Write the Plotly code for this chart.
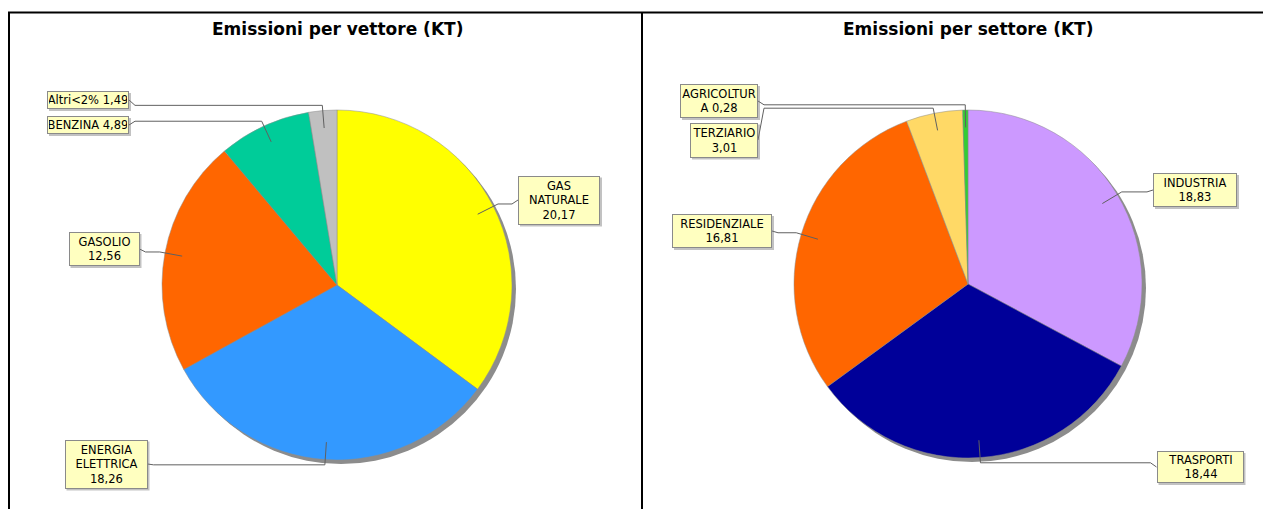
import math
import textwrap
import plotly.graph_objects as go

W, H = 1263, 509

# ---------------- data ----------------
titles = ["Emissioni per vettore (KT)", "Emissioni per settore (KT)"]

vettore_labels = ["GAS NATURALE", "ENERGIA ELETTRICA", "GASOLIO", "BENZINA", "Altri<2%"]
vettore_values = [20.17, 18.26, 12.56, 4.89, 1.49]

settore_labels = ["INDUSTRIA", "TRASPORTI", "RESIDENZIALE", "TERZIARIO", "AGRICOLTURA"]
settore_values = [18.83, 18.44, 16.81, 3.01, 0.28]

# ---------------- style / layout ----------------
vettore_colors = ["#FFFF00", "#3399FF", "#FF6600", "#00CC99", "#C0C0C0"]
settore_colors = ["#CC99FF", "#000099", "#FF6600", "#FFD966", "#33CC33"]

# pie centre (px) and radius (px)
pie_geom = [(337, 285, 175), (968, 284, 174)]
title_pos = [(337, 29), (968, 29)]

# label boxes: centre x, centre y, width, height, wrap width (chars)
vettore_boxes = [(559, 200, 82, 49, 9), (106, 464, 83, 49, 9), (104, 249, 71, 34, 9),
                 (88, 125, 82, 18, 14), (88, 100, 82, 18, 14)]
settore_boxes = [(1195, 190, 84, 34, 9), (1200, 467, 87, 32, 9), (722, 231, 100, 34, 12),
                 (724, 140, 68, 35, 9), (719, 101, 78, 34, 10)]

FONT = "DejaVu Sans"
BOX_BG = "#FFFFC0"
BOX_BORDER = "#8A8A8A"
LINE_COL = "#606060"

fig = go.Figure()
shapes = []
annotations = []

# invisible overlay axis in pixel units
fig.add_trace(go.Scatter(x=[W / 2], y=[H / 2], mode="none",
                         hoverinfo="skip", showlegend=False))

pies = [(vettore_labels, vettore_values, vettore_colors, vettore_boxes),
        (settore_labels, settore_values, settore_colors, settore_boxes)]

for i, (labels, values, colors, boxes) in enumerate(pies):
    cx, cy, r = pie_geom[i]
    # shadow
    shapes.append(dict(type="circle", xref="x", yref="y", layer="below",
                       x0=cx - r + 4, x1=cx + r + 4, y0=cy - r + 4, y1=cy + r + 4,
                       fillcolor="#8C8C8C", line=dict(width=0)))
    fig.add_trace(go.Pie(
        labels=labels, values=values, sort=False, direction="clockwise", rotation=0,
        marker=dict(colors=colors, line=dict(color="#8C8C8C", width=0.5)),
        textinfo="none", hoverinfo="label+value", showlegend=False,
        domain=dict(x=[(cx - r) / W, (cx + r) / W], y=[1 - (cy + r) / H, 1 - (cy - r) / H]),
    ))
    total = sum(values)
    cum = 0.0
    for lab, val, box in zip(labels, values, boxes):
        mid = (cum + val / 2) / total * 2 * math.pi
        cum += val
        bx, by, bw, bh, wrapw = box
        ax, ay = cx + 0.9 * r * math.sin(mid), cy - 0.9 * r * math.cos(mid)
        ex, ey = cx + 1.03 * r * math.sin(mid), cy - 1.03 * r * math.cos(mid)
        if bx < cx:
            edge = bx + bw / 2
            jog = edge + 6
        else:
            edge = bx - bw / 2
            jog = edge - 6
        path = f"M {ax},{ay} L {ex},{ey} L {jog},{ey} L {edge},{by}"
        shapes.append(dict(type="path", xref="x", yref="y", path=path,
                           line=dict(color=LINE_COL, width=1)))
        valtxt = f"{val:.2f}".replace(".", ",")
        lines = textwrap.wrap(f"{lab} {valtxt}", wrapw)
        txt = "<br>".join(l.replace("<", "&lt;") for l in lines)
        # box shadow
        shapes.append(dict(type="rect", xref="x", yref="y", layer="above",
                           x0=bx - bw / 2 + 2, x1=bx + bw / 2 + 2,
                           y0=by - bh / 2 + 2, y1=by + bh / 2 + 2,
                           fillcolor="rgba(120,120,120,0.45)", line=dict(width=0)))
        annotations.append(dict(
            x=bx, y=by, xref="x", yref="y", text=txt, showarrow=False,
            xanchor="center", yanchor="middle", align="center",
            width=bw - 4, height=bh - 4, borderpad=1, borderwidth=1,
            bgcolor=BOX_BG, bordercolor=BOX_BORDER,
            font=dict(family=FONT, size=11.5, color="#000000")))
    tx, ty = title_pos[i]
    annotations.append(dict(x=tx, y=ty, xref="x", yref="y", text=f"<b>{titles[i]}</b>",
                            showarrow=False, xanchor="center", yanchor="middle",
                            font=dict(family=FONT, size=17, color="#000000")))

# panel borders (paper coordinates)
border = dict(color="#000000", width=2)
shapes.append(dict(type="line", xref="paper", yref="paper", x0=8 / W, x1=1.02,
                   y0=1 - 12.5 / H, y1=1 - 12.5 / H, line=border))
shapes.append(dict(type="line", xref="paper", yref="paper", x0=9 / W, x1=9 / W,
                   y0=1 - 12 / H, y1=-0.02, line=border))
shapes.append(dict(type="line", xref="paper", yref="paper", x0=642 / W, x1=642 / W,
                   y0=1 - 12 / H, y1=-0.02, line=border))

fig.update_layout(
    width=W, height=H, margin=dict(l=0, r=0, t=0, b=0),
    paper_bgcolor="white", plot_bgcolor="rgba(0,0,0,0)",
    xaxis=dict(range=[0, W], visible=False, fixedrange=True, domain=[0, 1]),
    yaxis=dict(range=[H, 0], visible=False, fixedrange=True, domain=[0, 1]),
    shapes=shapes, annotations=annotations, showlegend=False,
)

fig.write_html("out.html", config={"displayModeBar": False})
